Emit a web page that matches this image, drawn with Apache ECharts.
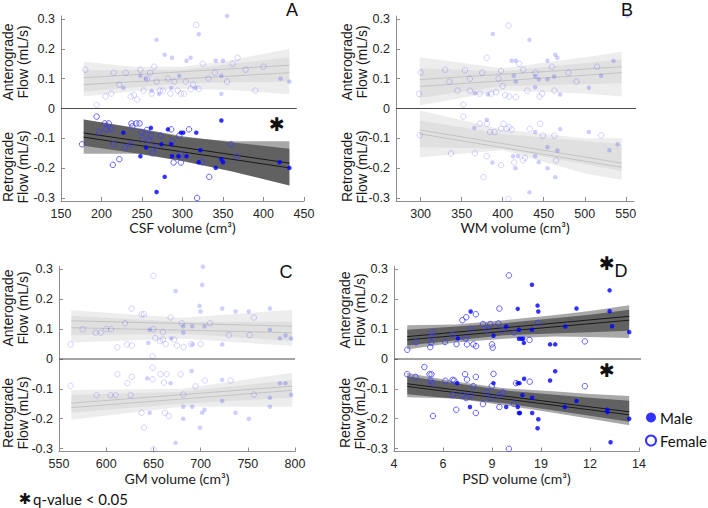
<!DOCTYPE html>
<html><head><meta charset="utf-8">
<script src="https://cdn.jsdelivr.net/npm/echarts@6/dist/echarts.min.js"></script>
<style>html,body{margin:0;padding:0;background:#fff}#c{width:708px;height:508px}</style>
</head><body><div id="c"></div>
<script>
// ---------- tick labels ----------
const yTicks = [-0.3,-0.2,-0.1,0,0.1,0.2,0.3];
const wmTicks = [300,350,400,450,500,550];
const psdTickValues = [4,6,8,10,12,14];
const psdTickLabels = ['4','6','9','19','12','14'];

// ---------- Panel A : CSF ----------
const csfAntMale = [[355,0.31],[320,0.249],[268,0.23],[278,0.18],[287,0.17],[305,0.16],[310,0.17],[341,0.16],[350,0.16],[255,0.10],[248,0.11],[296,0.11],[348,0.11],[421,0.10],[432,0.09],[227,0.069],[286,0.069],[316,0.069],[262,0.059],[271,0.049],[348,0.049]];
const csfAntFemale = [[180,0.13],[194,0.012],[205,0.04],[212,0.05],[215,0.12],[222,0.08],[230,0.12],[236,0.04],[240,0.045],[244,0.03],[248,0.13],[252,0.06],[256,0.10],[260,0.12],[262,0.05],[265,0.14],[268,0.09],[272,0.06],[276,0.06],[282,0.10],[285,0.05],[290,0.09],[294,0.06],[298,0.05],[302,0.05],[304,0.09],[310,0.065],[313,0.08],[317,0.28],[320,0.065],[325,0.15],[332,0.10],[340,0.12],[355,0.09],[362,0.15],[368,0.17],[378,0.13],[390,0.06],[400,0.14]];
const csfRetMale = [[348,-0.04],[227,-0.081],[261,-0.065],[282,-0.07],[298,-0.081],[301,-0.081],[317,-0.081],[274,-0.12],[286,-0.12],[255,-0.131],[248,-0.16],[287,-0.16],[295,-0.16],[305,-0.16],[322,-0.14],[320,-0.18],[341,-0.199],[348,-0.17],[350,-0.18],[278,-0.229],[268,-0.28],[420,-0.18],[432,-0.199]];
const csfRetFemale = [[176,-0.12],[194,-0.027],[197,-0.079],[204,-0.05],[209,-0.05],[206,-0.07],[212,-0.069],[215,-0.12],[214,-0.189],[222,-0.17],[229,-0.13],[236,-0.12],[237,-0.05],[238,-0.06],[243,-0.05],[247,-0.05],[249,-0.079],[251,-0.10],[256,-0.072],[259,-0.107],[261,-0.091],[263,-0.15],[266,-0.131],[273,-0.091],[286,-0.07],[287,-0.11],[289,-0.181],[296,-0.091],[298,-0.154],[298,-0.181],[308,-0.07],[324,-0.18],[318,-0.30],[333,-0.229],[360,-0.12],[367,-0.16]];
const csfAntOuter = [[178,0.04,0.157],[240,0.058,0.14],[300,0.066,0.14],[360,0.062,0.162],[432,0.048,0.2]];
const csfAntInner = [[178,0.056,0.128],[300,0.085,0.13],[432,0.09,0.172]];
const csfAntLine1 = [[178,0.103],[432,0.145]];
const csfAntLine2 = [[178,0.08],[432,0.12]];
const csfRetOuter = [[178,-0.152,-0.037],[246,-0.152,-0.068],[300,-0.175,-0.096],[360,-0.21,-0.11],[432,-0.258,-0.11]];
const csfRetInner = [[178,-0.125,-0.037],[246,-0.152,-0.066],[300,-0.177,-0.093],[360,-0.21,-0.113],[432,-0.258,-0.135]];
const csfRetLine1 = [[178,-0.082],[432,-0.183]];
const csfRetLine2 = [[178,-0.096],[432,-0.199]];
const csfZero = [[150,0],[441,0]];

// ---------- Panel B : WM ----------
const wmAntMale = [[388,0.25],[432.6,0.23],[411,0.16],[416,0.16],[454.6,0.16],[464,0.18],[466.7,0.17],[413.5,0.11],[416,0.09],[439.5,0.108],[444,0.098],[454.6,0.098],[462.7,0.107],[439.5,0.071],[366,0.052],[382,0.047],[470,0.047],[505,0.07],[552,0.31],[520,0.11],[535,0.16]];
const wmAntFemale = [[407,0.278],[380.6,0.17],[354,0.128],[375,0.12],[398,0.126],[298,0.049],[352,0.013],[372,0.05],[386,0.05],[392,0.055],[403,0.045],[408,0.04],[416,0.038],[430,0.06],[445,0.04],[448,0.05],[463,0.06],[420,0.15],[300,0.12],[330,0.13],[345,0.06],[360,0.10],[395,0.10],[400,0.075],[425,0.13],[440,0.12],[460,0.14],[480,0.12],[490,0.09],[360,0.06],[335,0.09],[515,0.14]];
const wmRetMale = [[380.6,-0.038],[365.5,-0.065],[387.4,-0.181],[412.7,-0.16],[418.8,-0.16],[415.5,-0.20],[432.6,-0.281],[439.5,-0.079],[444,-0.18],[454.6,-0.13],[454.6,-0.20],[464,-0.23],[466.7,-0.141],[470,-0.069],[439.5,-0.16],[505,-0.079],[530,-0.14],[540,-0.12]];
const wmRetFemale = [[299,-0.09],[337,-0.151],[352,-0.027],[366,-0.15],[372,-0.051],[380.6,-0.051],[384.6,-0.079],[390,-0.079],[398,-0.068],[401,-0.051],[405,-0.068],[408,-0.062],[411,-0.071],[433,-0.068],[445.6,-0.051],[449,-0.091],[463,-0.091],[380.6,-0.16],[398,-0.19],[414,-0.181],[424.5,-0.174],[376.5,-0.23],[407,-0.303],[427,-0.165],[465,-0.174],[520,-0.09]];
const wmAntOuter = [[299,0.01,0.172],[400,0.06,0.135],[500,0.05,0.172],[545,0.04,0.19]];
const wmAntInner = [[299,0.035,0.135],[400,0.075,0.125],[545,0.085,0.165]];
const wmAntLine1 = [[299,0.097],[545,0.14]];
const wmAntLine2 = [[299,0.074],[545,0.12]];
const wmRetOuter = [[299,-0.163,-0.007],[400,-0.14,-0.07],[500,-0.218,-0.1],[545,-0.24,-0.1]];
const wmRetInner = [[299,-0.13,-0.04],[400,-0.135,-0.085],[545,-0.21,-0.12]];
const wmRetLine1 = [[299,-0.072],[545,-0.183]];
const wmRetLine2 = [[299,-0.085],[545,-0.197]];
const wmZero = [[270,0],[641,0]];

// ---------- Panel C : GM ----------
const gmAntMale = [[702.4,0.309],[701.7,0.248],[673.5,0.228],[698.9,0.178],[700,0.159],[722.9,0.169],[737,0.159],[751.1,0.159],[773.4,0.169],[646,0.098],[681.6,0.11],[691.1,0.11],[704.2,0.11],[681.6,0.088],[668.9,0.069],[644.6,0.054],[691.1,0.049],[722.9,0.049],[773.4,0.098],[784,0.069],[790,0.079],[796,0.069]];
const gmAntFemale = [[649.9,0.279],[626.9,0.169],[637.5,0.149],[668.2,0.139],[562.3,0.049],[588.8,0.088],[594.1,0.088],[611.8,0.039],[622,0.049],[627,0.045],[649.2,0.009],[652,0.07],[657,0.06],[660,0.065],[663,0.05],[672,0.065],[675,0.045],[682,0.04],[690,0.05],[700,0.05],[756.4,0.139],[752,0.08],[640,0.15],[605,0.10],[620,0.12],[660,0.09],[680,0.12],[710,0.12],[730,0.08],[600,0.10],[650,0.10],[575,0.10]];
const gmRetMale = [[643.5,-0.065],[668.2,-0.081],[690.4,-0.04],[646,-0.18],[681.6,-0.16],[681.6,-0.20],[691.1,-0.16],[699.3,-0.23],[701.7,-0.18],[704.2,-0.17],[673.5,-0.281],[722.9,-0.07],[722.9,-0.141],[737,-0.18],[751.1,-0.20],[773.4,-0.13],[773.4,-0.16],[784,-0.081],[790,-0.081],[796,-0.12]];
const gmRetFemale = [[562.3,-0.09],[589.8,-0.121],[604.7,-0.121],[610,-0.121],[611.8,-0.051],[622.4,-0.081],[627,-0.06],[625.9,-0.121],[637.5,-0.18],[640,-0.23],[649.2,-0.029],[649.2,-0.068],[650.2,-0.303],[657.6,-0.051],[661.2,-0.079],[664,-0.051],[662.2,-0.18],[666.4,-0.191],[678.8,-0.051],[681.6,-0.119],[694.6,-0.092],[704.5,-0.072],[731.7,-0.072],[756.4,-0.119]];
const gmAntOuter = [[563,0.055,0.163],[680,0.068,0.138],[797,0.044,0.165]];
const gmAntInner = [[563,0.08,0.145],[680,0.085,0.125],[797,0.06,0.125]];
const gmAntLine1 = [[563,0.128],[797,0.11]];
const gmAntLine2 = [[563,0.105],[797,0.088]];
const gmRetOuter = [[563,-0.204,-0.104],[680,-0.16,-0.1],[797,-0.16,-0.046]];
const gmRetInner = [[563,-0.18,-0.12],[680,-0.15,-0.11],[797,-0.13,-0.07]];
const gmRetLine1 = [[563,-0.148],[797,-0.091]];
const gmRetLine2 = [[563,-0.163],[797,-0.105]];
const gmZero = [[550,0],[800,0]];

// ---------- Panel D : PSD ----------
const psdAntMale = [[7.13,0.159],[6.61,0.069],[8.06,0.078],[8.58,0.109],[9.05,0.168],[9.10,0.098],[9.10,0.068],[9.20,0.068],[9.27,0.068],[9.30,0.054],[9.63,0.249],[9.63,0.098],[9.86,0.179],[9.89,0.159],[10.37,0.049],[10.58,0.049],[10.99,0.109],[11.45,0.169],[12.8,0.23],[12.8,0.16],[12.9,0.11],[13.6,0.09]];
const psdAntFemale = [[4.54,0.031],[4.90,0.056],[5.48,0.040],[5.52,0.055],[5.53,0.074],[5.57,0.089],[6.08,0.057],[6.39,0.081],[6.55,0.050],[6.79,0.130],[6.95,0.140],[6.92,0.069],[6.98,0.049],[7.13,0.100],[7.24,0.049],[7.34,0.150],[7.35,0.043],[7.63,0.117],[7.79,0.097],[7.93,0.117],[8.00,0.049],[8.03,0.038],[8.26,0.119],[8.30,0.169],[8.41,0.096],[8.69,0.280],[8.90,0.089],[9.53,0.064],[9.88,0.121],[11.79,0.059]];
const psdRetMale = [[6.58,-0.081],[7.10,-0.161],[8.06,-0.081],[8.58,-0.161],[9.05,-0.081],[9.12,-0.081],[9.05,-0.161],[9.10,-0.181],[9.14,-0.181],[9.24,-0.121],[9.31,-0.066],[9.64,-0.130],[9.64,-0.181],[9.89,-0.202],[9.86,-0.232],[10.37,-0.072],[10.58,-0.041],[10.97,-0.161],[11.45,-0.141],[12.7,-0.17],[12.72,-0.178],[13.6,-0.20],[12.84,-0.279]];
const psdRetFemale = [[4.54,-0.051],[4.88,-0.060],[5.24,-0.027],[5.45,-0.051],[5.53,-0.051],[5.49,-0.073],[5.57,-0.081],[5.59,-0.191],[6.10,-0.073],[6.39,-0.070],[6.46,-0.072],[6.40,-0.121],[6.54,-0.170],[6.80,-0.121],[6.90,-0.051],[6.98,-0.069],[6.95,-0.131],[7.13,-0.121],[7.24,-0.091],[7.34,-0.060],[7.34,-0.181],[7.63,-0.151],[7.79,-0.111],[7.93,-0.131],[7.99,-0.091],[8.06,-0.050],[8.30,-0.121],[8.30,-0.161],[8.44,-0.111],[8.90,-0.150],[8.69,-0.301],[8.98,-0.081],[9.54,-0.076],[11.79,-0.091]];
const psdAntOuter = [[4.54,0.032,0.113],[6.5,0.055,0.116],[8.5,0.068,0.13],[10.5,0.075,0.147],[12,0.074,0.161],[13.6,0.07,0.18]];
const psdAntInner = [[4.54,0.045,0.098],[8.5,0.08,0.12],[12,0.09,0.148],[13.6,0.095,0.165]];
const psdAntLine1 = [[4.54,0.075],[13.6,0.143]];
const psdAntLine2 = [[4.54,0.064],[13.6,0.13]];
const psdRetOuter = [[4.54,-0.128,-0.047],[6.5,-0.132,-0.075],[8.5,-0.155,-0.098],[10.5,-0.18,-0.108],[12,-0.2,-0.117],[13.6,-0.222,-0.124]];
const psdRetInner = [[4.54,-0.118,-0.058],[8.5,-0.148,-0.105],[12,-0.19,-0.13],[13.6,-0.21,-0.14]];
const psdRetLine1 = [[4.54,-0.083],[13.6,-0.177]];
const psdRetLine2 = [[4.54,-0.092],[13.6,-0.187]];
const psdZero = [[4,0],[16.5,0]];

// ---------- build ----------
const panels = [
  {sig:{ant:false, ret:true}, antMale:csfAntMale, antFemale:csfAntFemale, retMale:csfRetMale, retFemale:csfRetFemale,
   antOuter:csfAntOuter, antInner:csfAntInner, antL1:csfAntLine1, antL2:csfAntLine2,
   retOuter:csfRetOuter, retInner:csfRetInner, retL1:csfRetLine1, retL2:csfRetLine2, zero:csfZero},
  {sig:{ant:false, ret:false}, antMale:wmAntMale, antFemale:wmAntFemale, retMale:wmRetMale, retFemale:wmRetFemale,
   antOuter:wmAntOuter, antInner:wmAntInner, antL1:wmAntLine1, antL2:wmAntLine2,
   retOuter:wmRetOuter, retInner:wmRetInner, retL1:wmRetLine1, retL2:wmRetLine2, zero:wmZero},
  {sig:{ant:false, ret:false}, antMale:gmAntMale, antFemale:gmAntFemale, retMale:gmRetMale, retFemale:gmRetFemale,
   antOuter:gmAntOuter, antInner:gmAntInner, antL1:gmAntLine1, antL2:gmAntLine2,
   retOuter:gmRetOuter, retInner:gmRetInner, retL1:gmRetLine1, retL2:gmRetLine2, zero:gmZero},
  {sig:{ant:true, ret:true}, antMale:psdAntMale, antFemale:psdAntFemale, retMale:psdRetMale, retFemale:psdRetFemale,
   antOuter:psdAntOuter, antInner:psdAntInner, antL1:psdAntLine1, antL2:psdAntLine2,
   retOuter:psdRetOuter, retInner:psdRetInner, retL1:psdRetLine1, retL2:psdRetLine2, zero:psdZero}
];

function band(g, pts, fill, z) {
  return {type:'custom', xAxisIndex:g, yAxisIndex:g, silent:true, z:z,
    data:[[pts[0][0], pts[0][1]]],
    renderItem:function(params, api){
      const top = pts.map(p => api.coord([p[0], p[2]]));
      const bot = pts.slice().reverse().map(p => api.coord([p[0], p[1]]));
      return {type:'polygon', shape:{points: top.concat(bot), smooth:0}, style:{fill:fill}};
    }};
}
function line(g, pts, color, width, z, clip) {
  return {type:'line', xAxisIndex:g, yAxisIndex:g, data:pts, showSymbol:false, silent:true, z:z,
    clip: clip !== false, lineStyle:{color:color, width:width}, animation:false};
}
function scat(g, pts, name, filled, strong) {
  const col = strong ? '#0000ff' : 'rgba(40,40,255,0.28)';
  return {type:'scatter', name:name, xAxisIndex:g, yAxisIndex:g, data:pts, silent:true, z:5,
    symbol:'circle', symbolSize: filled ? 4.5 : 5.5,
    itemStyle: filled ? {color:col} : {color:'rgba(0,0,0,0)', borderColor: strong ? '#3c3cff' : 'rgba(40,40,255,0.25)', borderWidth:1}};
}

const series = [];
panels.forEach((p, g) => {
  ['ant','ret'].forEach(h => {
    const s = p.sig[h];
    series.push(band(g, p[h+'Outer'], s ? 'rgba(0,0,0,0.34)' : 'rgba(0,0,0,0.07)', 1));
    series.push(band(g, p[h+'Inner'], s ? 'rgba(0,0,0,0.42)' : 'rgba(0,0,0,0.05)', 2));
    series.push(line(g, p[h+'L1'], s ? '#1a1a1a' : '#c4c4c4', 1, 3));
    series.push(line(g, p[h+'L2'], s ? '#1a1a1a' : '#c4c4c4', 1, 3));
    const nm = (g === 3) ? '' : ' ' + g + h;
    series.push(scat(g, p[h+'Female'], 'Female' + nm, false, s));
    series.push(scat(g, p[h+'Male'], 'Male' + nm, true, s));
  });
  series.push(line(g, p.zero, '#4a4a4a', 1.2, 4, false));
});

const grids = [
  {left:61, top:16, width:243, height:185},
  {left:396, top:16, width:238, height:185},
  {left:59, top:266.5, width:236, height:185},
  {left:394, top:266.5, width:245, height:185}
];
const AX = '#8e8e8e';
function xAx(g, min, max, name, extra) {
  return Object.assign({type:'value', gridIndex:g, min:min, max:max, name:name,
    nameLocation:'middle', nameGap:19,
    nameTextStyle:{fontSize:14, fontFamily:'Lato', color:'#1a1a1a'},
    axisLine:{show:true, onZero:false, lineStyle:{color:AX, width:1}},
    axisTick:{show:true, inside:true, length:4, lineStyle:{color:AX}},
    axisLabel:{color:'#262626', fontSize:12.5, fontFamily:'Liberation Sans', margin:6},
    splitLine:{show:false}}, extra || {});
}
function yAx(g) {
  return {type:'value', gridIndex:g, min:-0.31, max:0.31,
    axisLine:{show:true, onZero:false, lineStyle:{color:AX, width:1}},
    axisTick:{show:true, inside:true, length:4, lineStyle:{color:AX}, customValues:yTicks},
    axisLabel:{color:'#262626', fontSize:12.5, fontFamily:'Liberation Sans', margin:6,
      customValues:yTicks, formatter: v => String(Math.round(v*10)/10)},
    splitLine:{show:false}};
}
const xAxes = [
  xAx(0,150,450,'CSF volume (cm³)',{interval:50}),
  xAx(1,270,560,'WM volume (cm³)',{
    axisTick:{show:true, inside:true, length:4, lineStyle:{color:AX}, customValues:wmTicks},
    axisLabel:{color:'#262626', fontSize:12.5, fontFamily:'Liberation Sans', margin:6, customValues:wmTicks}}),
  xAx(2,550,800,'GM volume (cm³)',{interval:50}),
  xAx(3,4,14,'PSD volume (cm³)',{interval:2,
    axisLabel:{color:'#262626', fontSize:12.5, fontFamily:'Liberation Sans', margin:6,
      formatter: v => { const i = psdTickValues.indexOf(v); return i >= 0 ? psdTickLabels[i] : ''; }}})
];

function ytitle(x, y, t) {
  return {type:'text', x:x, y:y, rotation:Math.PI/2, silent:true,
    style:{text:t, font:'14px "Liberation Sans"', fill:'#1a1a1a', align:'center', verticalAlign:'middle', lineHeight:15}};
}
function txt(x, y, t, font, align) {
  return {type:'text', x:x, y:y, silent:true,
    style:{text:t, font:font, fill:'#111', align:align || 'center', verticalAlign:'middle'}};
}
const graphics = [
  ytitle(15.5, 62, 'Anterograde\nFlow (mL/s)'), ytitle(15.5, 167, 'Retrograde\nFlow (mL/s)'),
  ytitle(354, 62, 'Anterograde\nFlow (mL/s)'), ytitle(354, 167, 'Retrograde\nFlow (mL/s)'),
  ytitle(15.5, 308, 'Anterograde\nFlow (mL/s)'), ytitle(15.5, 413, 'Retrograde\nFlow (mL/s)'),
  ytitle(352.5, 310, 'Anterograde\nFlow (mL/s)'), ytitle(352.5, 413, 'Retrograde\nFlow (mL/s)'),
  txt(292, 10, 'A', '18px "Liberation Sans"'),
  txt(627, 10, 'B', '18px "Liberation Sans"'),
  txt(286, 272, 'C', '18px "Liberation Sans"'),
  txt(621, 271, 'D', '18px "Liberation Sans"'),
  txt(277, 124, '✱', 'bold 19px "DejaVu Sans"'),
  txt(607, 263, '✱', 'bold 19px "DejaVu Sans"'),
  txt(607, 370, '✱', 'bold 19px "DejaVu Sans"'),
  txt(25, 499, '✱', 'bold 15px "DejaVu Sans"'),
  txt(33, 499, 'q-value < 0.05', '15px Lato', 'left')
];

const chart = echarts.init(document.getElementById('c'), null, {renderer:'svg', width:708, height:508});
chart.setOption({
  animation:false,
  backgroundColor:'#fff',
  grid:grids,
  xAxis:xAxes,
  yAxis:[yAx(0), yAx(1), yAx(2), yAx(3)],
  legend:{
    data:[{name:'Male', icon:'circle', itemStyle:{color:'#0000ff', borderWidth:0}},
          {name:'Female', icon:'circle', itemStyle:{color:'#ffffff', borderColor:'#0000ff', borderWidth:2}}],
    orient:'vertical', left:645, top:410, itemWidth:10, itemHeight:10, itemGap:8,
    selectedMode:false, padding:0,
    textStyle:{fontSize:15, fontFamily:'Lato', color:'#111', padding:[0,0,0,-1]}
  },
  graphic:graphics,
  series:series
});
</script></body></html>
